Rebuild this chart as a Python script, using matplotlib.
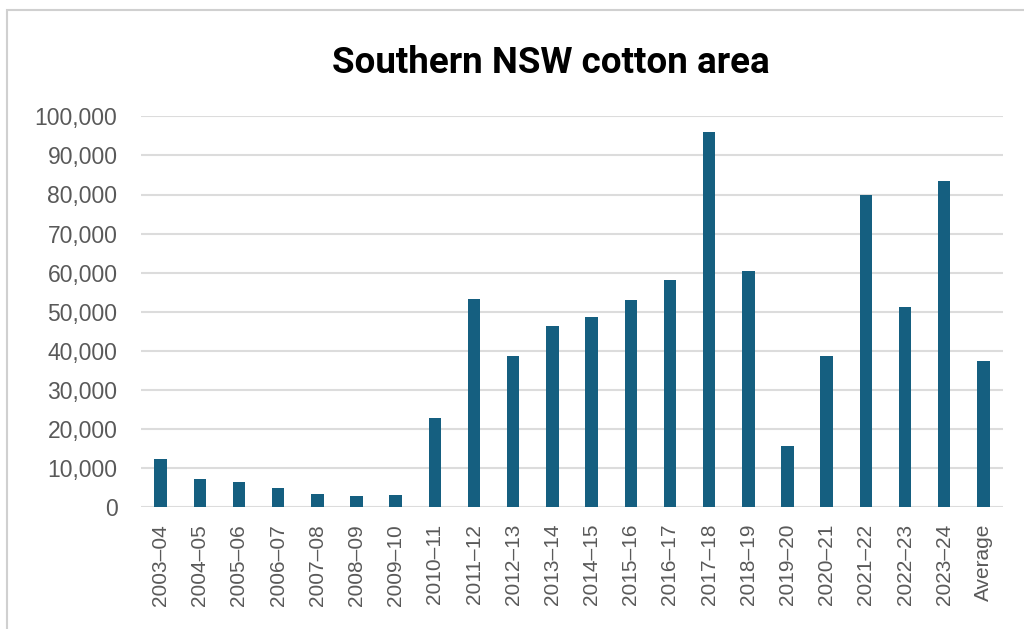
import numpy as np
import matplotlib.pyplot as plt
from matplotlib.patches import Rectangle
from matplotlib.ticker import FuncFormatter

seasons = ['2003–04', '2004–05', '2005–06', '2006–07', '2007–08', '2008–09',
           '2009–10', '2010–11', '2011–12', '2012–13', '2013–14', '2014–15',
           '2015–16', '2016–17', '2017–18', '2018–19', '2019–20', '2020–21',
           '2021–22', '2022–23', '2023–24', 'Average']
area_ha = [12300, 7200, 6400, 4900, 3300, 2800, 3100, 22800, 53200, 38800,
           46400, 48700, 52900, 58100, 96100, 60400, 15800, 38800, 79900,
           51300, 83500, 37400]

bar_colour = '#155f80'
text_grey = '#595959'

fig = plt.figure(figsize=(10.24, 6.29), dpi=100)
fig.patch.set_facecolor('white')

# light frame around the chart (top and left edges visible)
fig.patches.append(Rectangle((7 / 1024, -0.1), 1.2, 1 - 10 / 629 + 0.1,
                             transform=fig.transFigure, fill=False,
                             edgecolor='#d0d0d0', linewidth=1.5))

ax = fig.add_axes([141 / 1024, 1 - 507.3 / 629, (1003 - 141) / 1024,
                   (507.3 - 116.3) / 629])

x = np.arange(len(seasons))
ax.bar(x, area_ha, width=0.32, color=bar_colour, zorder=3)

ax.set_xlim(-0.5, len(seasons) - 0.5)
ax.set_ylim(0, 100000)
ax.set_yticks(np.arange(0, 100001, 10000))
ax.yaxis.set_major_formatter(FuncFormatter(lambda v, p: f'{int(v):,}'))
ax.set_xticks(x)
ax.set_xticklabels(seasons, rotation=90)

ax.grid(axis='y', color='#dcdcdc', linewidth=1.5, zorder=0)
ax.set_axisbelow(True)
for s in ax.spines.values():
    s.set_visible(False)

ax.tick_params(axis='y', length=0, pad=17, labelsize=16.5, labelcolor=text_grey)
ax.tick_params(axis='x', length=0, pad=12, labelsize=15, labelcolor=text_grey)
for lbl in ax.get_xticklabels() + ax.get_yticklabels():
    lbl.set_fontfamily('Liberation Sans')

fig.text(551 / 1024, 1 - 63 / 629, 'Southern NSW cotton area',
         ha='center', va='center', fontsize=26.5, fontweight='bold',
         family='Roboto', color='black')

fig.savefig('out.png', dpi=100, facecolor='white')
